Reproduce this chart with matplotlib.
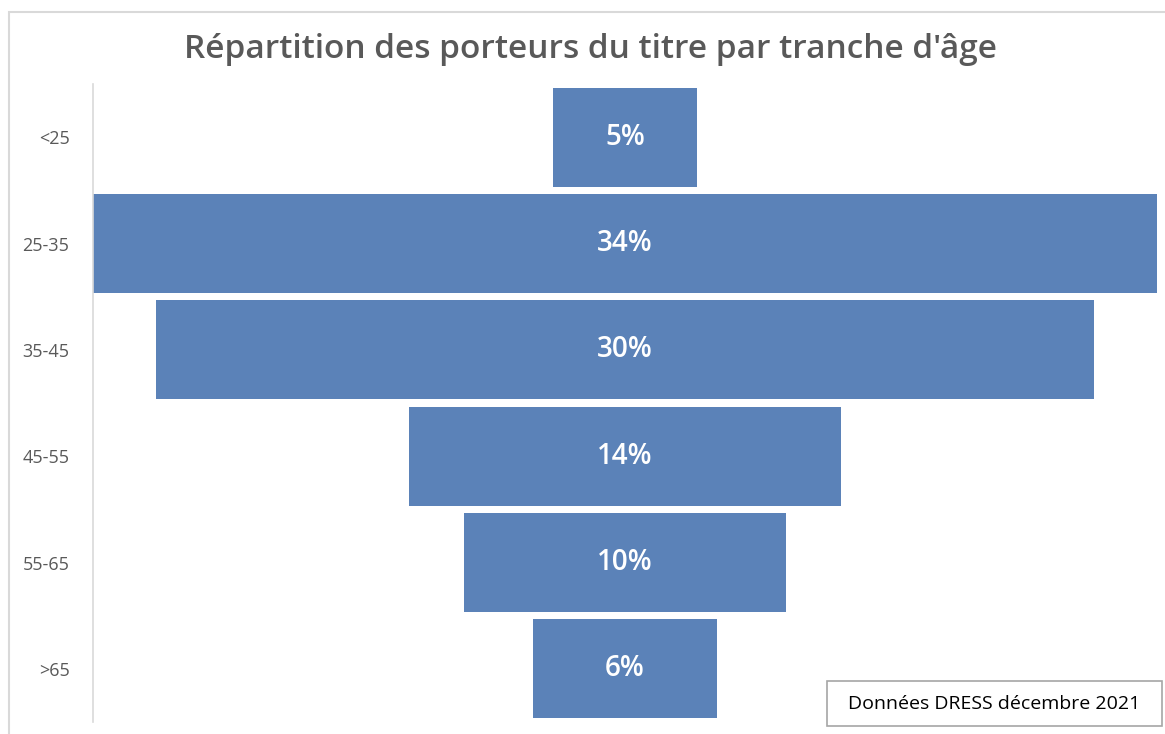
import matplotlib
matplotlib.use("Agg")
import matplotlib.pyplot as plt
from matplotlib.patches import Rectangle

# données (largeur des barres)
tranches = ["<25", "25-35", "35-45", "45-55", "55-65", ">65"]
parts = [4.6, 34.0, 30.0, 13.8, 10.3, 5.9]
etiquettes = ["5%", "34%", "30%", "14%", "10%", "6%"]

titre = "Répartition des porteurs du titre par tranche d'âge"
source = "Données DRESS décembre 2021"

bleu = "#5b82b8"
gris = "#595959"
police = "Open Sans"

fig = plt.figure(figsize=(11.65, 7.34), dpi=100)
ax = fig.add_axes([93 / 1165, 1 - 722 / 734, (1157 - 93) / 1165, (722 - 84) / 734])

lefts = [-p / 2 for p in parts]
ax.barh(range(len(tranches)), parts, left=lefts, height=0.93, color=bleu)

for i, (p, lab) in enumerate(zip(parts, etiquettes)):
    ax.text(0, i, lab, ha="center", va="center", color="white",
            fontsize=20, fontweight="semibold", family=police)

m = max(parts) / 2
ax.set_xlim(-m, m)
ax.set_ylim(len(tranches) - 0.5, -0.5)
ax.set_yticks(range(len(tranches)))
ax.set_yticklabels(tranches, fontsize=13, color=gris, family=police)
ax.tick_params(axis="y", length=0, pad=17)
ax.set_xticks([])
for s in ["top", "right", "bottom"]:
    ax.spines[s].set_visible(False)
ax.spines["left"].set_color("#d9d9d9")
ax.spines["left"].set_linewidth(1.2)

# titre
fig.text(590 / 1165, 1 - 50 / 734, titre, ha="center", va="center",
         fontsize=24, fontweight="semibold", color=gris, family=police)

# cadre extérieur
fig.patches.append(Rectangle((9 / 1165, -0.1), 1.2, 1 - 12 / 734 + 0.1,
                             transform=fig.transFigure, fill=False,
                             edgecolor="#d9d9d9", linewidth=1.5))

# encadré source
fig.patches.append(Rectangle((827 / 1165, 1 - 726 / 734), (1162 - 827) / 1165, 45 / 734,
                             transform=fig.transFigure, facecolor="white",
                             edgecolor="#a6a6a6", linewidth=1.2))
fig.text((827 + 1162) / 2 / 1165, 1 - 704 / 734, source, ha="center", va="center",
         fontsize=14, color="black", family=police)

fig.savefig("out.png", dpi=100)
